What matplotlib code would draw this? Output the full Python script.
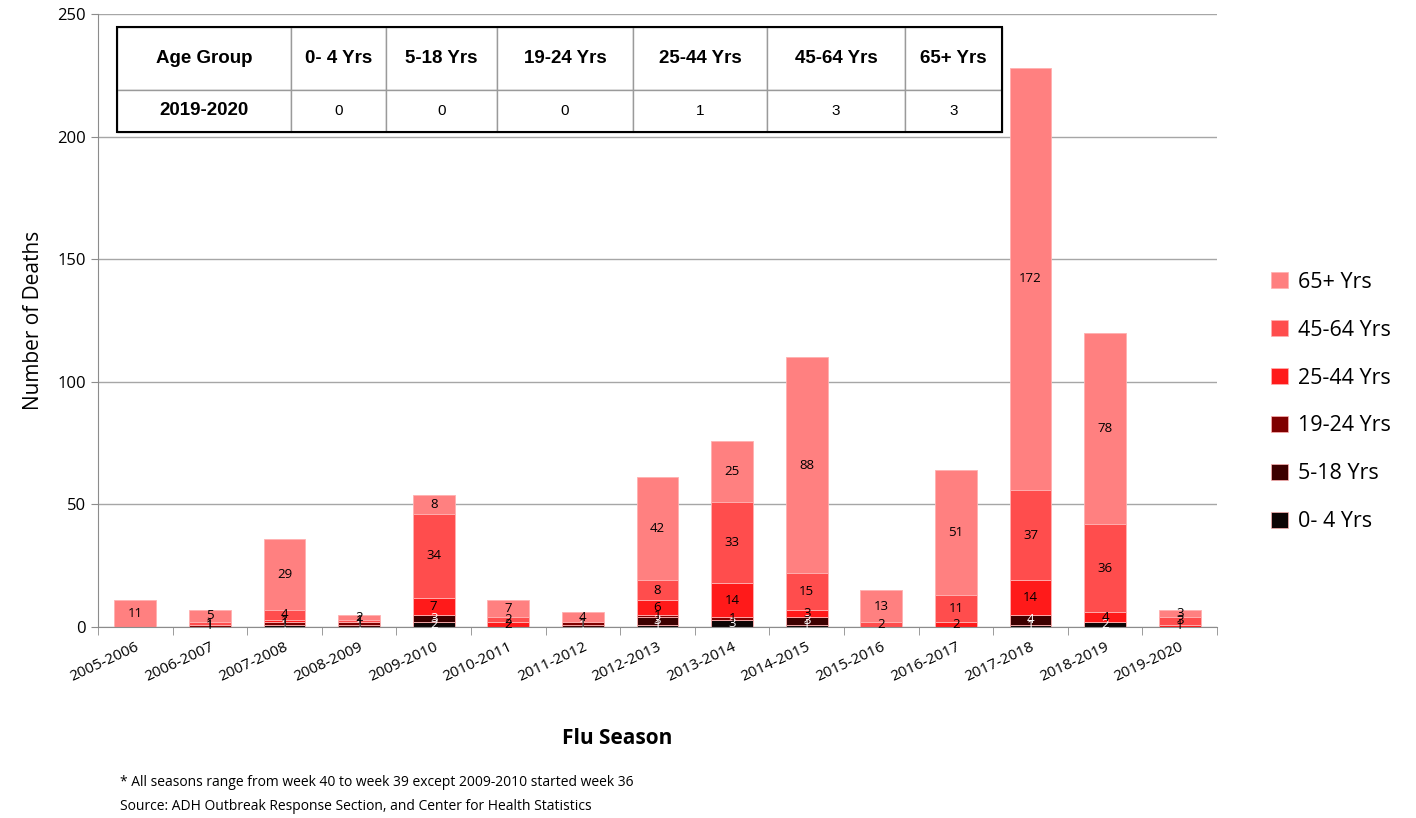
import numpy as np
from matplotlib import pyplot as plt
from matplotlib.patches import Patch

seasons = ["2005-2006", "2006-2007", "2007-2008", "2008-2009", "2009-2010",
           "2010-2011", "2011-2012", "2012-2013", "2013-2014", "2014-2015",
           "2015-2016", "2016-2017", "2017-2018", "2018-2019", "2019-2020"]
age_groups = ["0- 4 Yrs", "5-18 Yrs", "19-24 Yrs", "25-44 Yrs", "45-64 Yrs", "65+ Yrs"]

deaths_0_4 = [0, 0, 1, 0, 2, 0, 0, 1, 3, 1, 0, 0, 1, 2, 0]
deaths_5_18 = [0, 0, 0, 1, 3, 0, 1, 3, 0, 3, 0, 0, 4, 0, 0]
deaths_19_24 = [0, 1, 1, 1, 0, 0, 1, 1, 1, 0, 0, 0, 0, 0, 0]
deaths_25_44 = [0, 0, 1, 0, 7, 2, 0, 6, 14, 3, 0, 2, 14, 4, 1]
deaths_45_64 = [0, 1, 4, 1, 34, 2, 0, 8, 33, 15, 2, 11, 37, 36, 3]
deaths_65 = [11, 5, 29, 2, 8, 7, 4, 42, 25, 88, 13, 51, 172, 78, 3]

table_row = ["2019-2020", "0", "0", "0", "1", "3", "3"]

series = [deaths_0_4, deaths_5_18, deaths_19_24, deaths_25_44, deaths_45_64, deaths_65]
colors = ["#0d0505", "#3d0000", "#7f0000", "#ff1a1a", "#ff4d4d", "#ff8080"]
label_colors = ["white", "white", "black", "black", "black", "black"]

plt.rcParams['font.family'] = ['Open Sans', 'DejaVu Sans']

fig = plt.figure(figsize=(14.16, 8.18), dpi=100)
ax = fig.add_axes([98 / 1416, 1 - 627 / 818, 1119 / 1416, 613 / 818])

x = np.arange(len(seasons))
bottom = np.zeros(len(seasons))
for vals, col, lc in zip(series, colors, label_colors):
    vals = np.array(vals)
    ax.bar(x, vals, 0.56, bottom=bottom, color=col, edgecolor="#ffb0b0",
           linewidth=0.6, zorder=2)
    for xi, v, b in zip(x, vals, bottom):
        if v > 0:
            ax.text(xi, b + v / 2, str(v), ha="center", va="center",
                    fontsize=9.5, color=lc, zorder=3)
    bottom += vals

ax.set_xlim(-0.5, len(seasons) - 0.5)
ax.set_ylim(0, 250)
ax.set_yticks(np.arange(0, 251, 50))
ax.grid(axis="y", color="#a6a6a6", linewidth=1, zorder=0)
ax.set_axisbelow(True)

ax.set_xticks(x)
ax.set_xticklabels(seasons, rotation=25, ha="right", rotation_mode="anchor", fontsize=11)
ax.tick_params(axis="x", which="major", length=0, pad=9)
ax.set_xticks(np.arange(-0.5, len(seasons), 1), minor=True)
ax.tick_params(axis="x", which="minor", length=6, color="#8c8c8c", direction="out")
ax.tick_params(axis="y", length=5, color="#8c8c8c", labelsize=12)

for s in ["top", "right"]:
    ax.spines[s].set_visible(False)
for s in ["left", "bottom"]:
    ax.spines[s].set_color("#8c8c8c")

ax.set_ylabel("Number of Deaths", fontsize=15, labelpad=10)
fig.text(617 / 1416, 1 - 738 / 818, "Flu Season", fontsize=15, fontweight="bold",
         ha="center", va="center")
fig.text(120 / 1416, 1 - 783 / 818,
         "* All seasons range from week 40 to week 39 except 2009-2010 started week 36",
         fontsize=10, va="center")
fig.text(120 / 1416, 1 - 806 / 818,
         "Source: ADH Outbreak Response Section, and Center for Health Statistics",
         fontsize=10, va="center")

handles = [Patch(facecolor=c, edgecolor="#ffb0b0", linewidth=0.5) for c in colors][::-1]
fig.legend(handles, age_groups[::-1], loc="center left",
           bbox_to_anchor=(1252 / 1416, 1 - 402 / 818), frameon=False,
           fontsize=15.5, handlelength=0.75, handleheight=0.75,
           labelspacing=1.25, handletextpad=0.5)

# summary table for the current season
cell_text = [["Age Group"] + age_groups, table_row]
col_px = [174, 95, 111, 136, 134, 138, 97]
col_w = [c / sum(col_px) for c in col_px]
tbl = ax.table(cellText=cell_text, colWidths=col_w, cellLoc="center",
               bbox=[19 / 1119, (627 - 132) / 613, 885 / 1119, 105 / 613], zorder=5)
tbl.auto_set_font_size(False)
for (r, c), cell in tbl.get_celld().items():
    cell.set_edgecolor("#9a9a9a")
    cell.set_linewidth(1)
    cell.set_facecolor("white")
    txt = cell.get_text()
    txt.set_fontfamily("Liberation Sans")
    if r == 0 or c == 0:
        txt.set_fontsize(13.5)
        txt.set_fontweight("bold")
    else:
        txt.set_fontsize(11)
    if r == 0:
        cell.set_height(0.6 * 105 / 613)
    else:
        cell.set_height(0.4 * 105 / 613)
ax.add_patch(plt.Rectangle((19 / 1119, (627 - 132) / 613), 885 / 1119, 105 / 613,
                           transform=ax.transAxes, fill=False, edgecolor="black",
                           linewidth=1.5, zorder=6, clip_on=False))

fig.savefig("out.png", dpi=100)
